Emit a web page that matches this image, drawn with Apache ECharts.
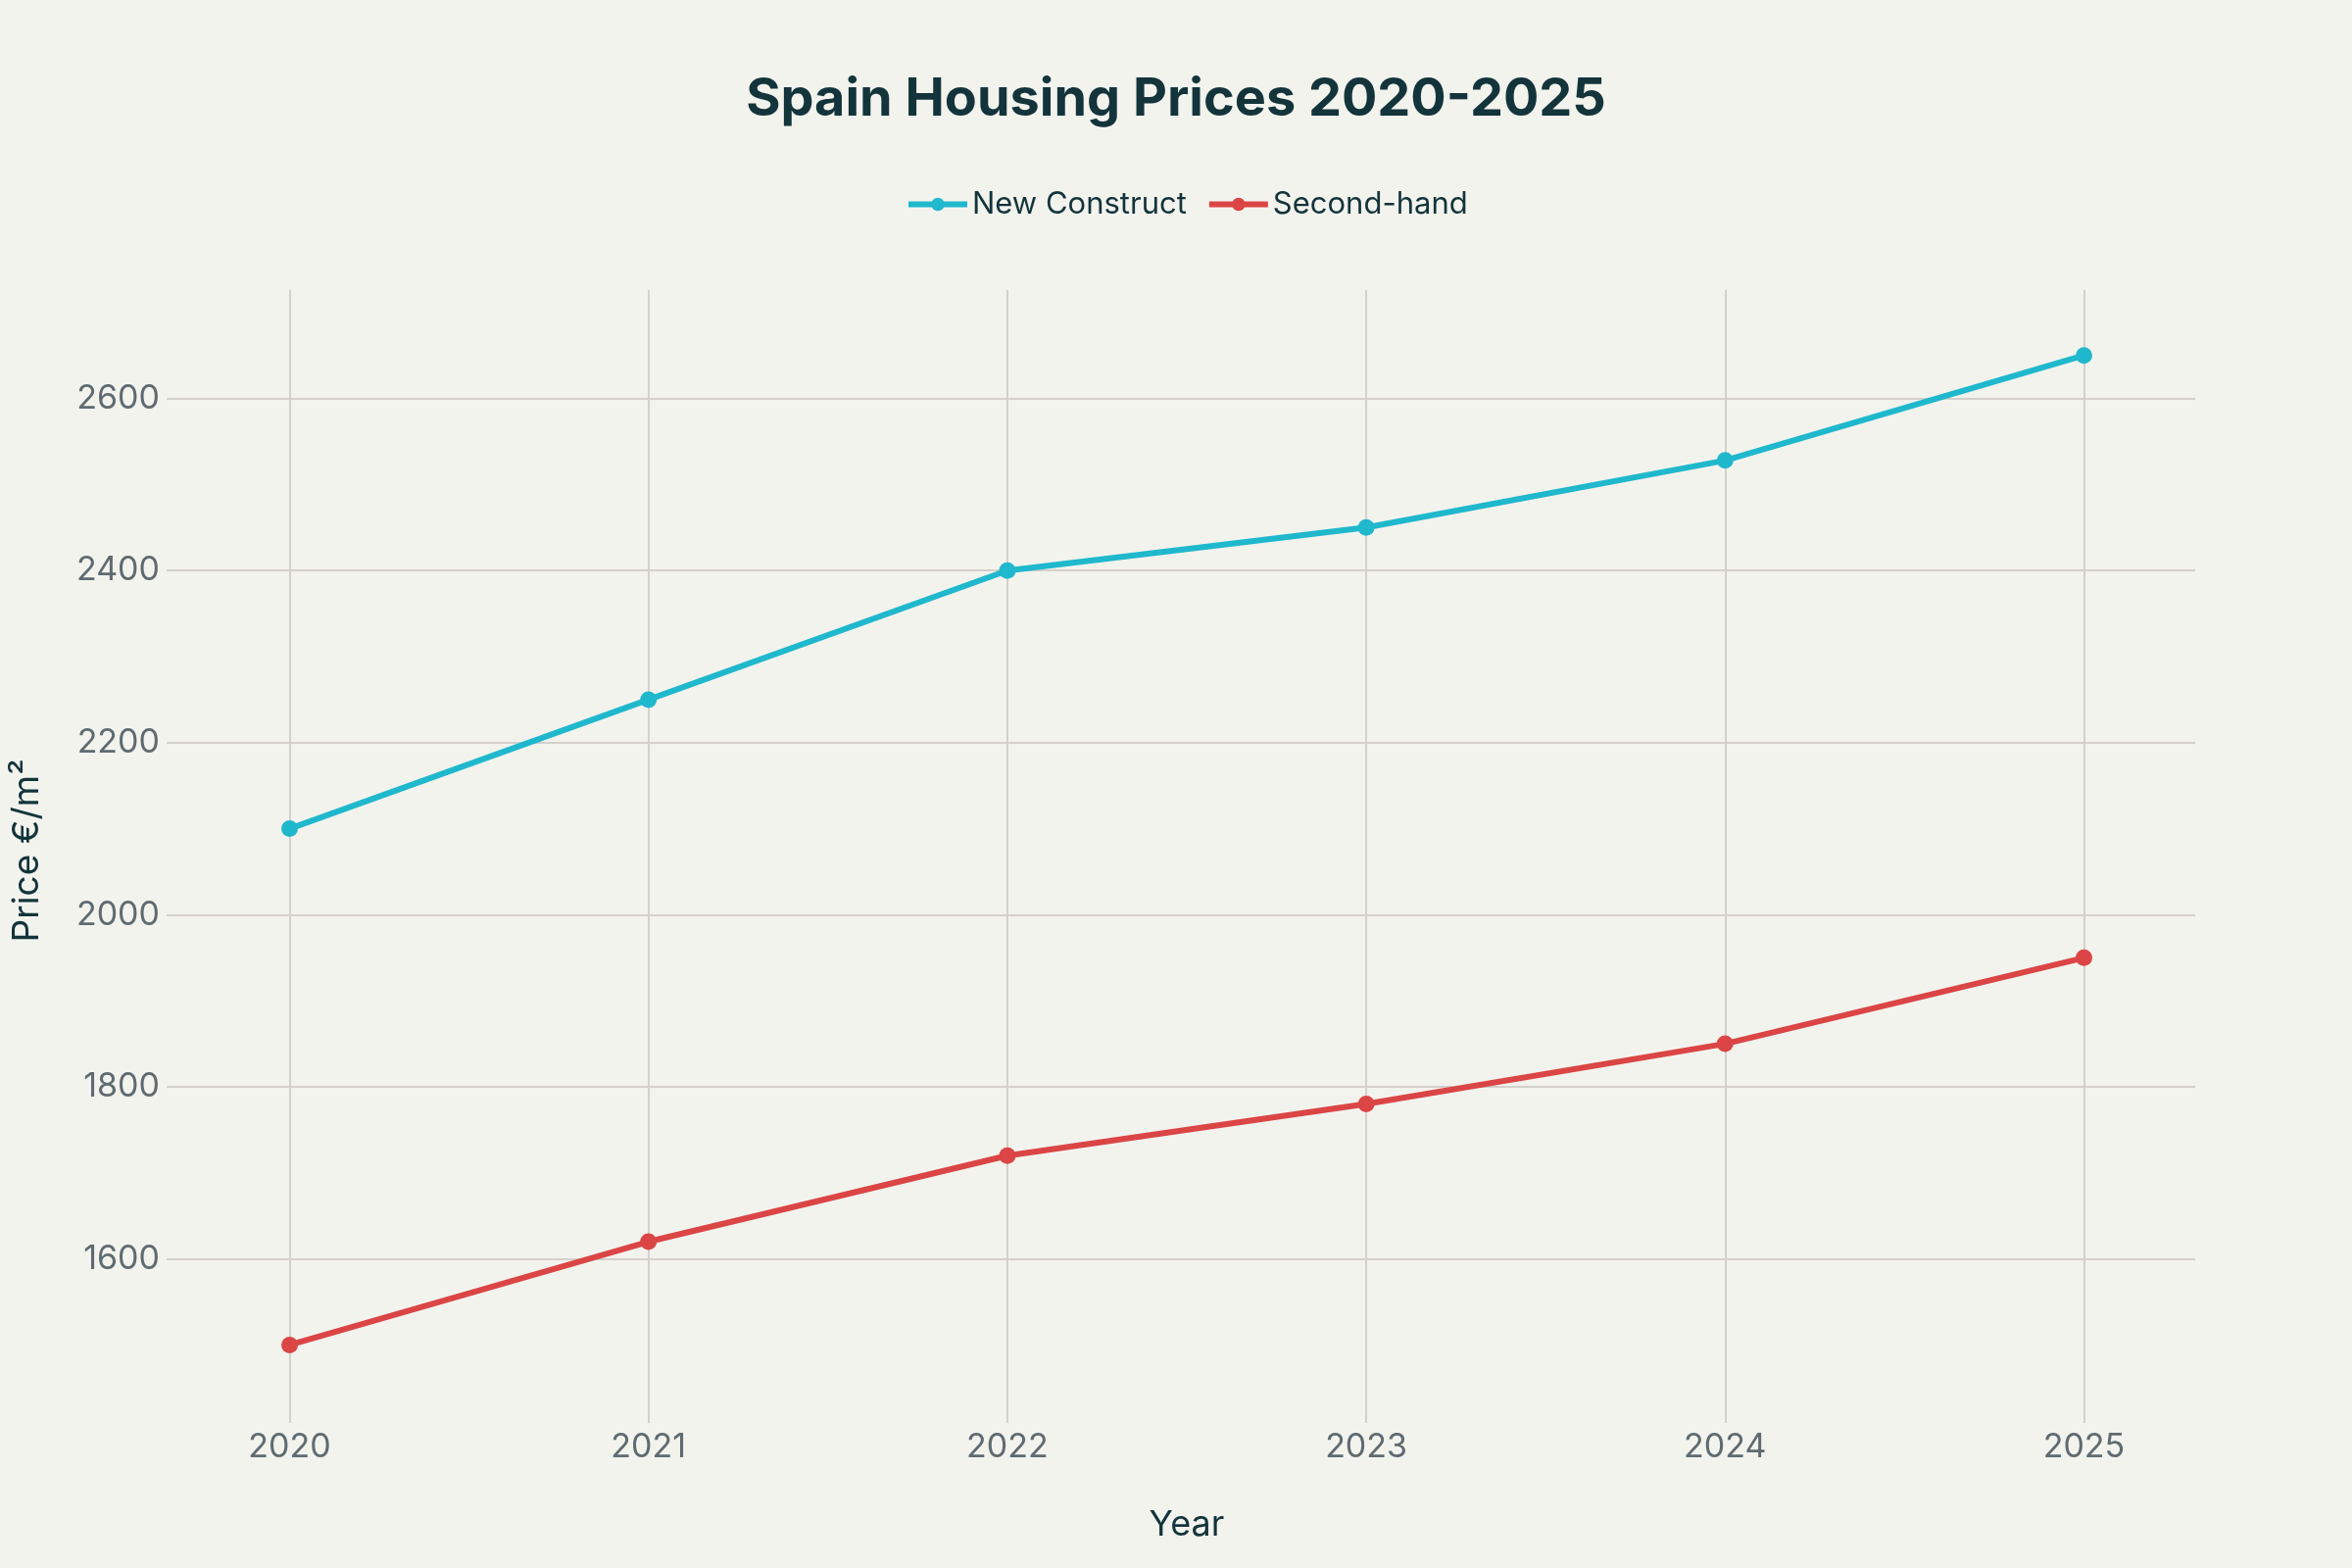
<!DOCTYPE html>
<html>
<head>
<meta charset="utf-8">
<title>Spain Housing Prices 2020-2025</title>
<script src="https://cdn.jsdelivr.net/npm/echarts@6/dist/echarts.min.js"></script>
<style>
  html, body { margin: 0; padding: 0; background: #F3F3EE; }
  #chart { width: 2400px; height: 1600px; }
</style>
</head>
<body>
<div id="chart"></div>
<script>
// data
var years = [2020, 2021, 2022, 2023, 2024, 2025];
var newConstruct = [2100, 2250, 2400, 2450, 2528, 2650];
var secondHand = [1500, 1620, 1720, 1780, 1850, 1950];
var yTicks = [1600, 1800, 2000, 2200, 2400, 2600];

var gridColor = "#D4D0CB";
var textDark = "#13343B";
var textGrey = "#5F6B70";
var font = "Inter";

function pairs(values) {
    return years.map(function (y, i) { return [y, values[i]]; });
}

var myChart = echarts.init(document.getElementById("chart"));
var option = {
    backgroundColor: "#F3F3EE",
    textStyle: { fontFamily: font },
    title: {
        text: "Spain Housing Prices 2020-2025",
        left: "center",
        top: 70,
        textStyle: { fontFamily: font, fontSize: 54, fontWeight: "bold", color: textDark }
    },
    legend: {
        top: 188,
        left: 1211,
        textStyle: { fontFamily: font, fontSize: 31, color: textDark },
        itemWidth: 60,
        itemHeight: 17,
        itemGap: 20,
        lineStyle: { width: 6 },
        data: ["New Construct", "Second-hand"]
    },
    grid: {
        left: 182, right: 160, top: 296, bottom: 160,
        containLabel: false,
        outerBoundsMode: "none"
    },
    xAxis: {
        type: "value",
        min: 2019.69,
        max: 2025.31,
        name: "Year",
        nameLocation: "middle",
        nameGap: 98,
        nameTextStyle: { fontFamily: font, fontSize: 36, color: textDark },
        axisLine: { show: false },
        axisTick: { show: true, customValues: years, length: 12, lineStyle: { color: gridColor, width: 2 } },
        axisLabel: {
            customValues: years, margin: 20,
            fontFamily: font, fontSize: 34, color: textGrey,
            formatter: function (v) { return String(v); }
        },
        splitLine: { show: true, lineStyle: { color: gridColor, width: 2 } }
    },
    yAxis: {
        type: "value",
        min: 1423,
        max: 2726,
        name: "Price €/m²",
        nameLocation: "middle",
        nameGap: 136,
        nameRotate: 90,
        nameTextStyle: { fontFamily: font, fontSize: 37, color: textDark },
        axisLine: { show: false },
        axisTick: { show: true, customValues: yTicks, length: 12, lineStyle: { color: gridColor, width: 2 } },
        axisLabel: {
            customValues: yTicks, margin: 19,
            fontFamily: font, fontSize: 34, color: textGrey,
            formatter: function (v) { return String(v); }
        },
        splitLine: { show: true, lineStyle: { color: gridColor, width: 2 } }
    },
    series: [
        {
            name: "New Construct",
            type: "line",
            data: pairs(newConstruct),
            symbol: "circle",
            symbolSize: 17,
            color: "#1FB8CD",
            lineStyle: { width: 6, color: "#1FB8CD" },
            itemStyle: { color: "#1FB8CD" }
        },
        {
            name: "Second-hand",
            type: "line",
            data: pairs(secondHand),
            symbol: "circle",
            symbolSize: 17,
            color: "#DB4545",
            lineStyle: { width: 6, color: "#DB4545" },
            itemStyle: { color: "#DB4545" }
        }
    ]
};
myChart.setOption(option);

// shift legend so its centre sits over the plot centre, not the page centre
setTimeout(function () {
    var w = 0;
    myChart._componentsViews.forEach(function (v) {
        if (v.type === "legend.plain" && v.group) {
            w = v.group.getBoundingRect().width;
        }
    });
    if (w) myChart.setOption({ legend: { left: Math.round(1211 - w / 2) } });
}, 0);
</script>
</body>
</html>
